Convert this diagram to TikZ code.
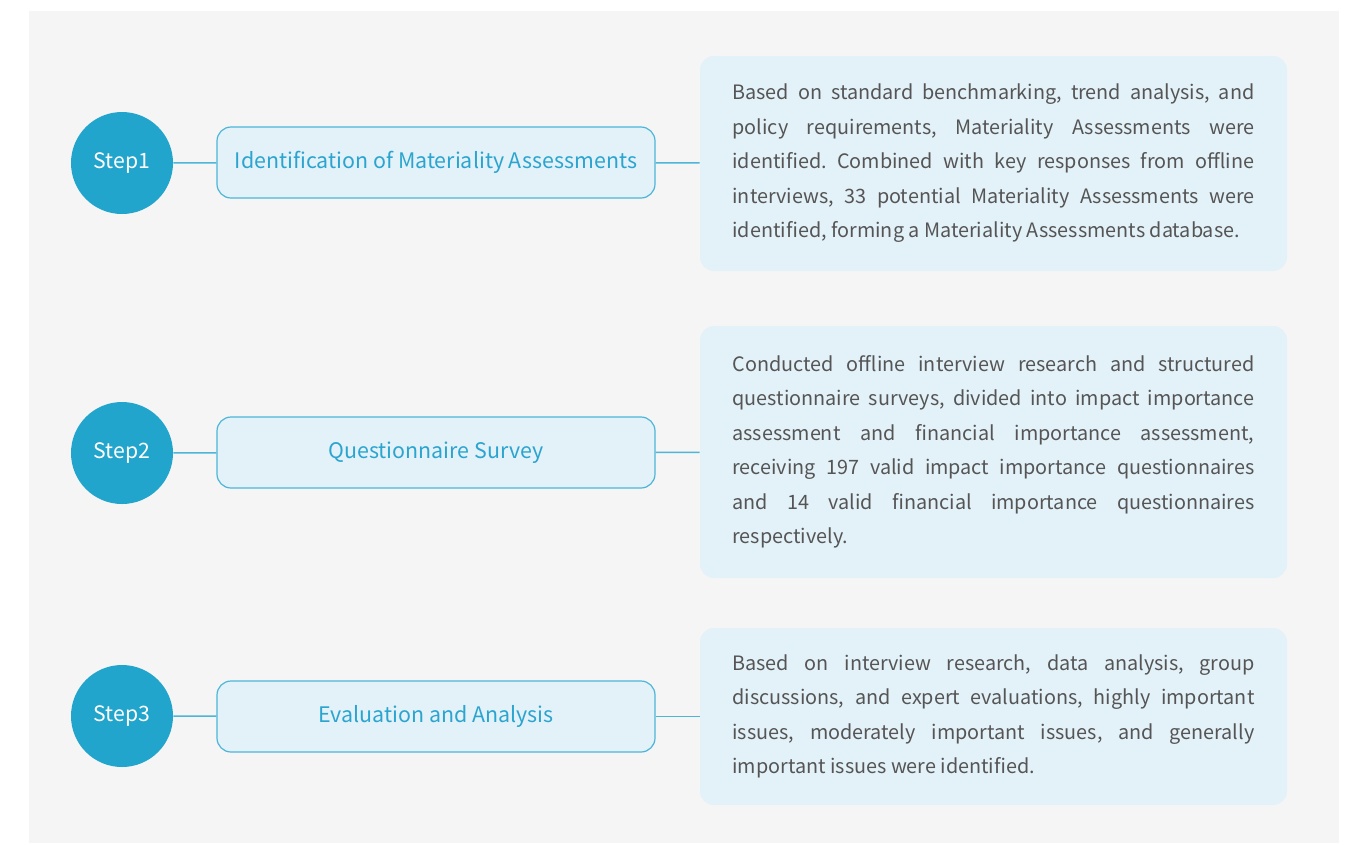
\documentclass[tikz,border=0pt]{standalone}
\usepackage{fontspec}
\setmainfont{Noto Sans CJK SC}
\definecolor{pagegray}{RGB}{245,245,245}
\definecolor{stepblue}{RGB}{34,165,204}
\definecolor{paleblue}{RGB}{227,241,248}
\definecolor{lineblue}{RGB}{77,182,216}
\definecolor{titleblue}{RGB}{43,165,207}
\definecolor{desctext}{RGB}{85,85,85}
\hyphenpenalty=10000
\exhyphenpenalty=10000
\frenchspacing
\begin{document}
\begin{tikzpicture}[x=0.5pt,y=-0.5pt,
    stepcircle/.style={circle,fill=stepblue,text=white,minimum size=51pt,inner sep=0pt,
        font=\fontsize{10.6pt}{13pt}\selectfont},
    titlebox/.style={draw=lineblue,line width=0.6pt,fill=paleblue,rounded corners=7pt,
        minimum width=219pt,minimum height=35.5pt,text=titleblue,
        font=\fontsize{10.7pt}{13pt}\selectfont},
    descbox/.style={fill=paleblue,rounded corners=7pt,text width=261pt,inner xsep=16.25pt,
        align=justify,text=desctext,font=\fontsize{9.9pt}{17.25pt}\selectfont},
    link/.style={draw=lineblue,line width=0.75pt}]
    \useasboundingbox (0,0) rectangle (1351,843);
    \fill[pagegray] (29,11) rectangle (1339,843);

    % step 1
    \node[stepcircle] (s1) at (122,163) {Step1};
    \node[titlebox] (t1) at (436,162.5) {Identification of Materiality Assessments};
    \node[descbox,minimum height=107.5pt] (d1) at (993.5,163.5) {Based on standard benchmarking, trend analysis, and\linebreak
        policy requirements, Materiality Assessments were\linebreak
        identified. Combined with key responses from offline\linebreak
        interviews, 33 potential Materiality Assessments were\linebreak
        identified, forming a Materiality Assessments database.};

    % step 2
    \node[stepcircle] (s2) at (122,453) {Step2};
    \node[titlebox] (t2) at (436,452.5) {Questionnaire Survey};
    \node[descbox,minimum height=126pt] (d2) at (993.5,452) {Conducted offline interview research and structured\linebreak
        questionnaire surveys, divided into impact importance\linebreak
        assessment and financial importance assessment,\linebreak
        receiving 197 valid impact importance questionnaires\linebreak
        and 14 valid financial importance questionnaires\linebreak
        respectively.};

    % step 3
    \node[stepcircle] (s3) at (122,716) {Step3};
    \node[titlebox] (t3) at (436,716.5) {Evaluation and Analysis};
    \node[descbox,minimum height=88.5pt] (d3) at (993.5,716.5) {Based on interview research, data analysis, group\linebreak
        discussions, and expert evaluations, highly important\linebreak
        issues, moderately important issues, and generally\linebreak
        important issues were identified.};

    \draw[link] (s1) -- (t1);
    \draw[link] (t1) -- (d1);
    \draw[link] (s2) -- (t2);
    \draw[link] (t2) -- (d2);
    \draw[link] (s3) -- (t3);
    \draw[link] (t3) -- (d3);
\end{tikzpicture}
\end{document}
